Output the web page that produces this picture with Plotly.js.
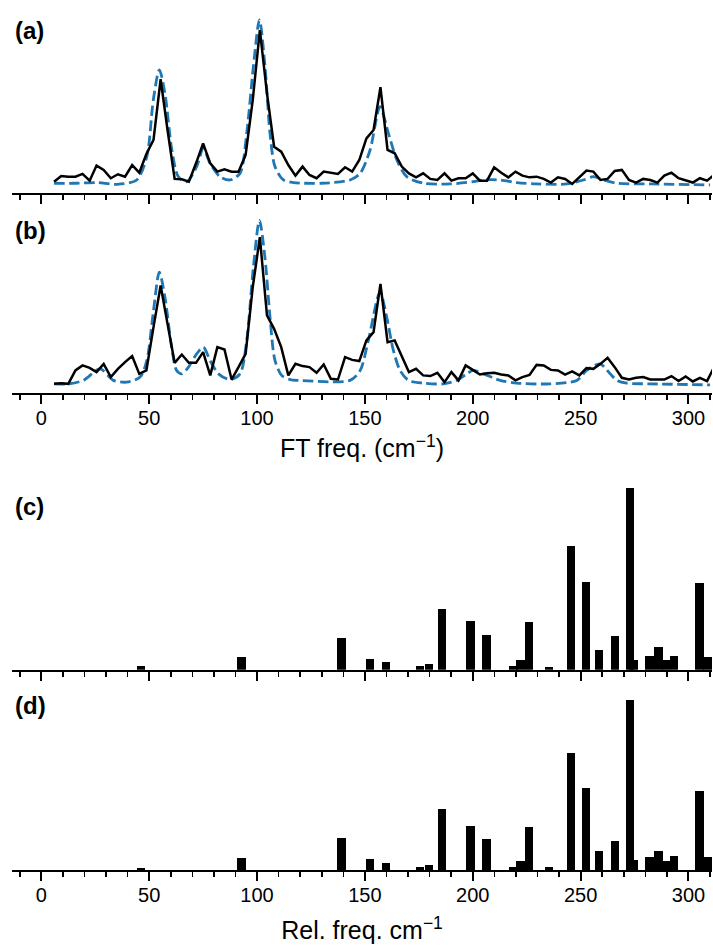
<!DOCTYPE html>
<html>
<head>
<meta charset="utf-8">
<script src="https://cdn.plot.ly/plotly-3.0.1.min.js"></script>
<style>html,body{margin:0;padding:0;background:#fff;}#plot{width:713px;height:947px;}</style>
</head>
<body>
<div id="plot"></div>
<script>
// FT frequency grid (cm^-1), shared by panels (a) and (b)
const freqGrid = [5.9, 9.2, 12.5, 15.8, 19.1, 22.4, 25.6, 28.9, 32.2, 35.5,
  38.8, 42.1, 45.4, 48.7, 52.0, 55.3, 58.5, 61.8, 65.1, 68.4,
  71.7, 75.0, 78.3, 81.6, 84.9, 88.2, 91.4, 94.7, 98.0, 101.3,
  104.6, 107.9, 111.2, 114.5, 117.8, 121.1, 124.3, 127.6, 130.9, 134.2,
  137.5, 140.8, 144.1, 147.4, 150.7, 154.0, 157.2, 160.5, 163.8, 167.1,
  170.4, 173.7, 177.0, 180.3, 183.6, 186.9, 190.1, 193.4, 196.7, 200.0,
  203.3, 206.6, 209.9, 213.2, 216.5, 219.8, 223.0, 226.3, 229.6, 232.9,
  236.2, 239.5, 242.8, 246.1, 249.4, 252.7, 255.9, 259.2, 262.5, 265.8,
  269.1, 272.4, 275.7, 279.0, 282.3, 285.6, 288.8, 292.1, 295.4, 298.7,
  302.0, 305.3, 308.6, 311.9];

// Panel (a): FT spectrum (black)
const ftA = [0.067, 0.100, 0.096, 0.096, 0.112, 0.073, 0.160, 0.135, 0.087, 0.110,
  0.096, 0.163, 0.119, 0.227, 0.308, 0.658, 0.365, 0.083, 0.081, 0.067,
  0.173, 0.288, 0.173, 0.125, 0.138, 0.125, 0.125, 0.221, 0.538, 0.942,
  0.577, 0.269, 0.240, 0.163, 0.102, 0.154, 0.106, 0.087, 0.125, 0.119,
  0.112, 0.150, 0.125, 0.192, 0.317, 0.365, 0.612, 0.250, 0.231, 0.154,
  0.115, 0.092, 0.115, 0.083, 0.077, 0.115, 0.073, 0.087, 0.087, 0.115,
  0.073, 0.073, 0.150, 0.119, 0.092, 0.125, 0.102, 0.092, 0.096, 0.083,
  0.062, 0.092, 0.083, 0.054, 0.092, 0.131, 0.125, 0.077, 0.083, 0.129,
  0.135, 0.077, 0.062, 0.083, 0.077, 0.062, 0.102, 0.119, 0.087, 0.073,
  0.062, 0.087, 0.073, 0.106];

// Panel (b): FT spectrum (black)
const ftB = [0.052, 0.056, 0.052, 0.130, 0.159, 0.145, 0.120, 0.168, 0.091, 0.139,
  0.178, 0.213, 0.110, 0.130, 0.381, 0.623, 0.400, 0.174, 0.222, 0.174,
  0.174, 0.236, 0.101, 0.265, 0.251, 0.077, 0.149, 0.226, 0.613, 0.903,
  0.449, 0.371, 0.265, 0.101, 0.168, 0.155, 0.149, 0.116, 0.164, 0.081,
  0.077, 0.207, 0.191, 0.184, 0.304, 0.352, 0.632, 0.294, 0.304, 0.207,
  0.120, 0.139, 0.101, 0.097, 0.116, 0.062, 0.120, 0.072, 0.159, 0.133,
  0.106, 0.114, 0.116, 0.106, 0.101, 0.072, 0.091, 0.104, 0.162, 0.159,
  0.133, 0.130, 0.106, 0.124, 0.101, 0.143, 0.139, 0.168, 0.203, 0.149,
  0.087, 0.077, 0.087, 0.091, 0.077, 0.077, 0.077, 0.097, 0.068, 0.095,
  0.066, 0.087, 0.068, 0.149];

// Panel (a): fitted curve (blue dashed)
const fitAx = [5.9, 15.0, 25.7, 35.0, 44.2, 48.9, 51.9, 54.7, 57.3, 60.5,
  63.5, 67.4, 72.0, 75.1, 78.2, 82.8, 87.5, 92.1, 95.2, 98.3,
  101.1, 103.7, 106.0, 108.3, 112.2, 116.8, 130.0, 143.1, 147.8, 152.4,
  157.0, 160.9, 164.8, 169.4, 177.1, 189.5, 200.3, 204.9, 212.7, 220.4,
  229.7, 243.6, 251.3, 255.9, 260.6, 266.8, 282.2, 310.0];
const fitAy = [0.058, 0.058, 0.062, 0.052, 0.077, 0.212, 0.538, 0.712, 0.577, 0.250,
  0.096, 0.067, 0.154, 0.260, 0.173, 0.096, 0.077, 0.115, 0.346, 0.731,
  1.000, 0.731, 0.346, 0.154, 0.077, 0.062, 0.058, 0.077, 0.115, 0.250,
  0.500, 0.346, 0.192, 0.096, 0.058, 0.054, 0.067, 0.077, 0.077, 0.062,
  0.054, 0.054, 0.077, 0.096, 0.077, 0.058, 0.054, 0.048];

// Panel (b): fitted curve (blue dashed)
const fitBx = [5.9, 12.5, 19.5, 27.2, 33.4, 39.6, 45.8, 48.9, 52.0, 54.7,
  57.3, 60.4, 62.7, 65.1, 68.2, 72.0, 75.1, 78.2, 82.1, 87.5,
  92.1, 95.2, 98.3, 101.1, 103.7, 106.0, 108.3, 111.4, 115.3, 119.9,
  143.1, 147.8, 151.6, 157.0, 160.1, 163.2, 166.3, 170.2, 177.1, 186.4,
  192.6, 197.2, 200.3, 204.9, 212.7, 220.4, 235.8, 248.2, 252.8, 259.0,
  263.7, 266.8, 271.4, 282.2, 310.0];
const fitBy = [0.052, 0.052, 0.072, 0.139, 0.072, 0.062, 0.091, 0.188, 0.478, 0.700,
  0.555, 0.265, 0.130, 0.110, 0.149, 0.226, 0.265, 0.188, 0.110, 0.077,
  0.110, 0.304, 0.729, 1.000, 0.780, 0.439, 0.188, 0.101, 0.077, 0.072,
  0.072, 0.130, 0.304, 0.584, 0.439, 0.246, 0.130, 0.072, 0.056, 0.052,
  0.072, 0.110, 0.130, 0.110, 0.072, 0.056, 0.052, 0.072, 0.130, 0.168,
  0.110, 0.072, 0.056, 0.052, 0.046];

// Panels (c), (d): relative frequencies and intensities
const modeFreq = [46.2, 92.7, 139.1, 152.3, 159.9, 175.6, 179.6, 185.6, 198.9, 206.4,
  218.8, 222.1, 226.2, 235.4, 245.4, 252.5, 258.6, 266.0, 272.8, 274.5,
  281.9, 286.1, 289.6, 293.3, 305.1, 308.8];
const relC = [0.018, 0.070, 0.172, 0.060, 0.040, 0.022, 0.029, 0.333, 0.269, 0.190,
  0.022, 0.051, 0.262, 0.016, 0.681, 0.480, 0.110, 0.185, 1.000, 0.055,
  0.075, 0.125, 0.051, 0.075, 0.474, 0.070];
const relD = [0.012, 0.073, 0.188, 0.065, 0.043, 0.018, 0.029, 0.357, 0.261, 0.182,
  0.018, 0.055, 0.251, 0.018, 0.688, 0.482, 0.114, 0.171, 1.000, 0.061,
  0.076, 0.114, 0.055, 0.082, 0.467, 0.076];

const panelLabels = ['(a)', '(b)', '(c)', '(d)'];
const xTitleTop = 'FT freq. (cm<sup>−1</sup>)';
const xTitleBottom = 'Rel. freq. cm<sup>−1</sup>';

const FONT = 'Liberation Sans, Arial, Helvetica, sans-serif';
const BLUE = '#1f77b4';

const dashStyle = {color: BLUE, width: 2.8, dash: '10.5px,4.5px', shape: 'spline', smoothing: 0.8};
const solidStyle = {color: 'black', width: 2.5};

const traces = [
  {x: fitAx, y: fitAy, xaxis: 'x', yaxis: 'y', mode: 'lines', line: dashStyle, hoverinfo: 'skip'},
  {x: freqGrid, y: ftA, xaxis: 'x', yaxis: 'y', mode: 'lines', line: solidStyle},
  {x: fitBx, y: fitBy, xaxis: 'x2', yaxis: 'y2', mode: 'lines', line: dashStyle, hoverinfo: 'skip'},
  {x: freqGrid, y: ftB, xaxis: 'x2', yaxis: 'y2', mode: 'lines', line: solidStyle},
  {type: 'bar', x: modeFreq, y: relC, width: 3.9, xaxis: 'x3', yaxis: 'y3', marker: {color: 'black', line: {width: 0}}},
  {type: 'bar', x: modeFreq, y: relD, width: 3.9, xaxis: 'x4', yaxis: 'y4', marker: {color: 'black', line: {width: 0}}}
];

function xax(anchor, labels, title, standoff) {
  const a = {
    anchor: anchor, range: [-13.6, 310.9], showgrid: false, zeroline: false,
    showline: true, linecolor: 'black', linewidth: 2,
    ticks: 'outside', ticklen: 9, tickwidth: 2, tickcolor: 'black',
    tick0: 0, dtick: 50,
    minor: {ticks: 'outside', tick0: 0, dtick: 10, ticklen: 5, tickwidth: 1.6, tickcolor: 'black', showgrid: false},
    showticklabels: labels,
    ticklabelstandoff: -3,
    tickfont: {family: FONT, size: 20, color: 'black'},
    fixedrange: true
  };
  if (title) a.title = {text: title, font: {family: FONT, size: 25, color: 'black'}, standoff: standoff};
  return a;
}
function yax(anchor, domain) {
  return {anchor: anchor, domain: domain, range: [0, 1.05], visible: false, showgrid: false, zeroline: false, fixedrange: true};
}

const labelY = [0.9683, 0.7571, 0.4649, 0.2555];
const annotations = panelLabels.map((t, k) => ({
  text: '<b>' + t + '</b>', xref: 'paper', yref: 'paper', x: 0.0014, y: labelY[k],
  xanchor: 'left', yanchor: 'middle', showarrow: false,
  font: {family: FONT, size: 24, color: 'black'}
}));

const layout = {
  width: 713, height: 947,
  margin: {l: 12, r: 1, t: 0, b: 0},
  paper_bgcolor: 'white', plot_bgcolor: 'white',
  showlegend: false,
  bargap: 0,
  xaxis: xax('y', false, null, 0),
  xaxis2: xax('y2', true, xTitleTop, 12),
  xaxis3: xax('y3', false, null, 0),
  xaxis4: xax('y4', true, xTitleBottom, 17),
  yaxis: yax('x', [0.79588, 0.98807]),
  yaxis2: yax('x2', [0.58522, 0.77624]),
  yaxis3: yax('x3', [0.29282, 0.49461]),
  yaxis4: yax('x4', [0.08131, 0.26980]),
  annotations: annotations,
  font: {family: FONT, color: 'black'}
};

Plotly.newPlot('plot', traces, layout, {displayModeBar: false, staticPlot: true});
</script>
</body>
</html>
